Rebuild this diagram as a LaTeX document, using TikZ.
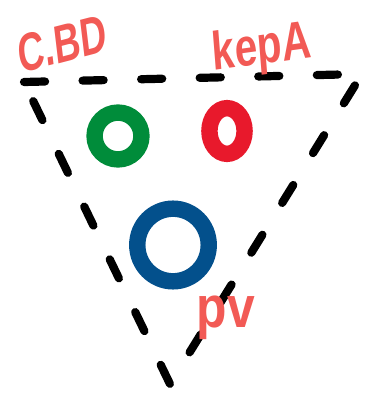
\documentclass[tikz,border=0pt]{standalone}
\usepackage{fontspec}
\setsansfont{Liberation Sans}
\usetikzlibrary{positioning,shapes.geometric}
\definecolor{inkgreen}{HTML}{008C3A}
\definecolor{inkred}{HTML}{E8192C}
\definecolor{inkblue}{HTML}{03508C}
\definecolor{inksalmon}{HTML}{F25A55}

\begin{document}
\begin{tikzpicture}[x=0.03cm, y=-0.03cm,
  every node/.style={inner sep=0pt, outer sep=0pt},
  ring/.style={ellipse, draw, line width=14pt},
  tag/.style={text=inksalmon, font=\sffamily\bfseries},
  edge/.style={line width=7pt, line cap=round, dash pattern=on 18pt off 32pt}]
  \useasboundingbox (0,0) rectangle (373,397);
  % corners of the triangle
  \coordinate (tl) at (24,82);
  \coordinate (tr) at (362,74);
  \coordinate (bt) at (170,384);
  \draw[edge] (tl) -- (tr) -- (bt) -- cycle;
  % rings
  \node (green) [ring, draw=inkgreen, minimum width=40pt, minimum height=40pt] at (118,136) {};
  \node (red) [ring, draw=inkred, minimum width=30pt, minimum height=39pt] at (227,131) {};
  \node (blue) [ring, draw=inkblue, minimum width=61pt, minimum height=62pt] at (173,245) {};
  % labels
  \node (cbd) [tag, font=\sffamily\bfseries\fontsize{46}{46}\selectfont, xscale=0.68, rotate=10] at (62,44) {C.BD};
  \node (kep) [tag, font=\sffamily\bfseries\fontsize{46}{46}\selectfont, xscale=0.75, rotate=6] at (262,50) {kepA};
  \node (pv) [tag, font=\sffamily\bfseries\fontsize{50}{50}\selectfont, xscale=0.85] at (226,318) {pv};
\end{tikzpicture}
\end{document}
